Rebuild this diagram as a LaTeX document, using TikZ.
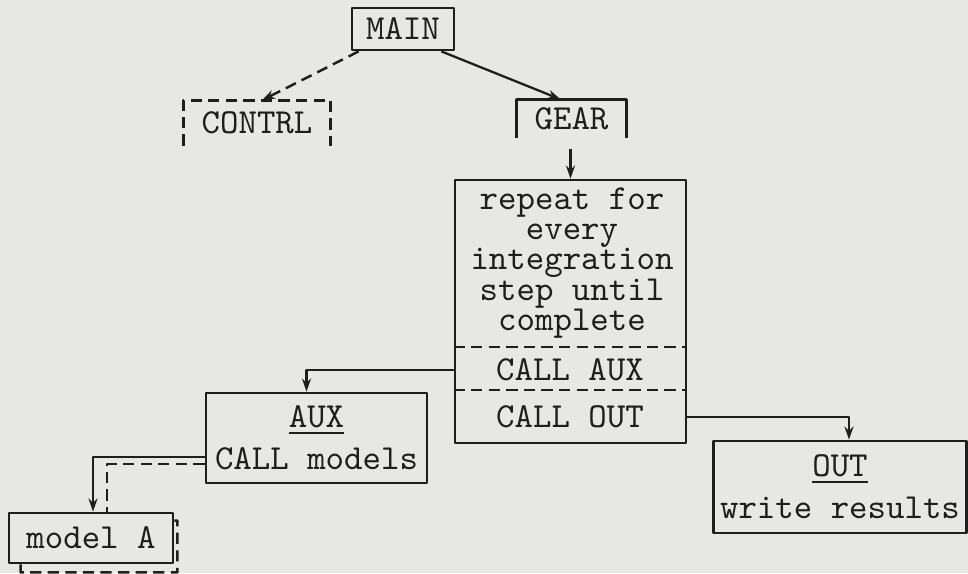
\documentclass[tikz,border=0pt]{standalone}
\usetikzlibrary{arrows.meta}
\definecolor{paper}{RGB}{231,231,229}
\definecolor{ink}{RGB}{30,30,30}
\begin{document}
\begin{tikzpicture}[x=0.1mm,y=-0.1mm,font=\fontsize{10}{12}\selectfont\ttfamily, line join=round, >={Stealth[length=1.3mm,width=0.9mm]}, ink]
	\tikzset{box/.style={draw,line width=0.8pt,inner sep=0pt,align=center},
		link/.style={line width=0.65pt},
		dashline/.style={line width=0.7pt,dash pattern=on 3.2pt off 1.8pt}}
	\fill[paper](0,0)rectangle(968,573);
	\useasboundingbox(0,0)rectangle(968,573);
	\node[box,minimum width=1.02cm,minimum height=0.42cm](main) at (403,29){MAIN};
	\node[inner sep=0pt,minimum width=1.46cm,minimum height=0.44cm](contrl) at (257,123){CONTRL};
	\draw[dashline](contrl.south west)--(contrl.north west)--(contrl.north east)--(contrl.south east);
	\node[inner sep=0pt,minimum width=1.09cm,minimum height=0.37cm](gear) at (571.5,118.5){GEAR};
	\draw[line width=0.8pt](gear.south west)--(gear.north west)--(gear.north east)--(gear.south east);
	\node[box,minimum width=2.31cm,minimum height=2.63cm](loop) at (570.5,311.5){};
	\node[align=center,font=\fontsize{10}{8.6}\selectfont\ttfamily](steps) at (572,263){repeat for\\every\\integration\\step until\\complete};
	\node(callaux) at (570,370){CALL AUX};
	\node(callout) at (570,417){CALL OUT};
	\coordinate(div1) at (0,347);
	\coordinate(div2) at (0,390);
	\draw[dashline](loop.west|-div1)--(loop.east|-div1);
	\draw[dashline](loop.west|-div2)--(loop.east|-div2);
	\node[box,minimum width=2.21cm,minimum height=0.9cm](aux) at (316.5,438){\underline{AUX}\\CALL models};
	\node[box,minimum width=2.53cm,minimum height=0.92cm](out) at (840,487){\underline{OUT}\\write results};
	\node[box,minimum width=1.64cm,minimum height=0.5cm](modela) at (91,538){model A};
	\draw[dashline]([xshift=0.13cm]modela.south west)--([shift={(13,8)}]modela.south west)--([shift={(3,8)}]modela.south east)--([shift={(3,9)}]modela.north east)--([shift={(0,9)}]modela.north east);
	\coordinate(gearfoot) at ([yshift=-0.11cm]gear.south);
	\draw[dashline,->]([xshift=0.08cm]main.south west)--([xshift=0.05cm]contrl.north);
	\draw[link,->]([xshift=-0.14cm]main.south east)--([xshift=-0.11cm]gear.north);
	\draw[link,->](loop.north|-gearfoot)--(loop.north);
	\draw[link,->](loop.west|-callaux)-|([xshift=-0.1cm]aux.north);
	\draw[link,->](loop.east|-callout)-|([xshift=0.09cm]out.north);
	\draw[link,->]([yshift=-0.19cm]aux.west)-|([xshift=0.02cm]modela.north);
	\draw[dashline]([yshift=-0.26cm]aux.west)-|([xshift=0.16cm]modela.north);
\end{tikzpicture}
\end{document}
